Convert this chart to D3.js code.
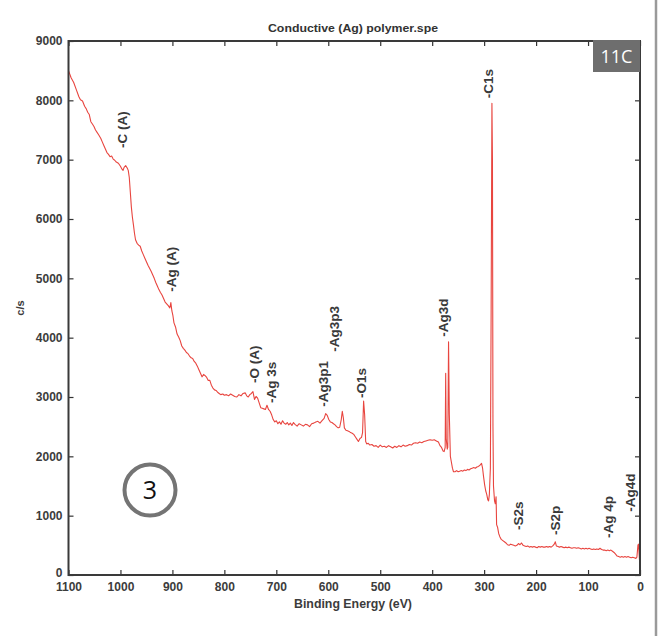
<!DOCTYPE html>
<html>
<head>
<meta charset="utf-8">
<script src="https://cdn.jsdelivr.net/npm/d3@7/dist/d3.min.js"></script>
<style>
  html, body { margin: 0; padding: 0; background: #ffffff; }
  svg { display: block; }
  .tick text { font-family: "Liberation Sans", Arial, sans-serif; font-size: 12px; font-weight: bold; fill: #3c3c3c; }
  .tick line { stroke: #333; stroke-width: 1.2; }
</style>
</head>
<body>
<svg id="chart" width="668" height="636"></svg>
<script>
// Survey spectrum: binding energy (eV) and intensity (counts per second)
const bindingEnergy = [
  1100, 1095, 1090, 1085, 1080, 1077, 1073, 1069, 1066, 1063, 1060, 1057, 1054, 1051, 1048, 1045, 1042, 1038,
  1035, 1032, 1029, 1026, 1023, 1020, 1017, 1014, 1011, 1008, 1004, 1000, 997, 995, 993, 990, 987, 985,
  983, 981, 979, 977, 975, 973, 971, 968, 965, 962, 959, 956, 953, 950, 947, 944, 941, 938,
  935, 932, 929, 926, 923, 920, 917, 914, 911, 908, 905, 903, 901, 899, 897, 894, 891, 888,
  885, 882, 879, 876, 873, 870, 867, 864, 861, 858, 855, 852, 849, 846, 843, 840, 837, 834,
  831, 828, 825, 822, 819, 816, 813, 810, 807, 803, 800, 796, 792, 788, 784, 780, 776, 772,
  768, 764, 760, 757, 754, 751, 748, 745, 742, 739, 736, 733, 730, 727, 724, 721, 718, 715,
  712, 709, 706, 703, 700, 697, 694, 691, 688, 685, 682, 679, 676, 673, 670, 667, 664, 660,
  656, 652, 648, 644, 640, 636, 632, 628, 624, 620, 616, 612, 608, 605, 602, 599, 596, 593,
  590, 587, 584, 581, 578, 575, 573, 571, 569, 566, 563, 560, 557, 554, 551, 548, 545, 542,
  539, 536, 534, 532, 530, 528, 526, 523, 520, 516, 512, 508, 504, 500, 496, 492, 488, 484,
  480, 476, 472, 468, 464, 460, 456, 452, 448, 444, 440, 436, 432, 428, 424, 420, 416, 412,
  408, 404, 400, 396, 392, 388, 385, 382, 379, 377, 375, 374, 373, 371, 370, 368.5, 367, 365,
  363, 361, 359, 356, 353, 350, 347, 344, 341, 338, 335, 332, 329, 326, 323, 320, 317, 314,
  311, 308, 305, 303, 301, 299, 297, 295, 293, 291.5, 290, 288, 286.5, 285, 284, 283, 282, 280,
  278.5, 277, 276, 274, 272, 270, 267, 264, 261, 258, 255, 252, 249, 246, 243, 240, 237, 234,
  231, 228, 225, 222, 219, 216, 213, 210, 207, 204, 201, 198, 195, 192, 189, 186, 183, 180,
  177, 174, 171, 168, 165, 163, 161, 158, 155, 152, 149, 146, 143, 140, 137, 134, 131, 128,
  125, 122, 119, 116, 113, 110, 107, 104, 101, 98, 95, 92, 89, 86, 83, 80, 77, 74,
  71, 68, 65, 62, 59, 56, 53, 50, 47, 44, 41, 38, 35, 32, 29, 26, 23, 20,
  17, 14, 11, 8, 6, 4, 3, 2, 1, 0
];
const countsPerSecond = [
  8500, 8380, 8300, 8180, 8060, 8010, 7990, 7900, 7860, 7800, 7760, 7640, 7600, 7560, 7500, 7460, 7420, 7360,
  7300, 7240, 7180, 7120, 7090, 7050, 7060, 7010, 6990, 6960, 6940, 6890, 6840, 6820, 6870, 6900, 6860, 6820,
  6700, 6450, 6200, 6030, 5900, 5760, 5650, 5590, 5560, 5540, 5460, 5400, 5340, 5280, 5220, 5170, 5120, 5060,
  5000, 4930, 4870, 4810, 4760, 4720, 4660, 4600, 4570, 4540, 4500, 4590, 4450, 4370, 4250, 4180, 4060, 4010,
  3950, 3860, 3820, 3790, 3750, 3730, 3690, 3660, 3650, 3600, 3570, 3520, 3460, 3400, 3340, 3380, 3360, 3330,
  3280, 3280, 3200, 3150, 3120, 3110, 3080, 3060, 3040, 3050, 3030, 3040, 3020, 3050, 3030, 3010, 3000, 3040,
  3020, 3060, 3070, 3020, 3000, 3040, 3060, 3090, 2960, 3010, 2980, 2900, 2820, 2810, 2800, 2790, 2860, 2790,
  2760, 2700, 2620, 2580, 2600, 2550, 2580, 2540, 2600, 2560, 2540, 2570, 2530, 2560, 2520, 2570, 2540, 2510,
  2550, 2530, 2510, 2540, 2530, 2500, 2550, 2560, 2580, 2590, 2560, 2600, 2640, 2720, 2690, 2620, 2580, 2570,
  2550, 2530, 2500, 2480, 2490, 2620, 2760, 2650, 2480, 2440, 2430, 2420, 2400, 2390, 2370, 2330, 2290, 2250,
  2300, 2320, 2400, 2930, 2700, 2250, 2210, 2220, 2190, 2200, 2170, 2180, 2150, 2190, 2160, 2170, 2150, 2180,
  2160, 2140, 2170, 2150, 2180, 2160, 2190, 2170, 2180, 2200, 2190, 2220, 2230, 2220, 2240, 2230, 2250, 2260,
  2270, 2280, 2270, 2280, 2260, 2240, 2180, 2150, 2090, 2080, 2150, 3400, 2300, 2120, 2150, 3930, 2700, 2000,
  1900, 1800, 1740, 1740, 1760, 1740, 1750, 1760, 1750, 1770, 1760, 1780, 1770, 1790, 1800, 1810, 1800, 1820,
  1830, 1850, 1880, 1800, 1650, 1520, 1420, 1360, 1270, 1250, 1350, 1800, 4500, 7950, 7000, 2500, 1500, 1250,
  1200, 1320, 850, 800, 700, 650, 600, 580, 560, 540, 510, 500, 520, 510, 500, 490, 500, 530,
  510, 540, 500, 490, 480, 490, 470, 480, 470, 480, 470, 460, 480, 470, 480, 470, 470, 480,
  470, 480, 470, 490, 520, 560, 490, 480, 470, 480, 470, 460, 470, 460, 470, 460, 450, 460,
  460, 450, 460, 450, 440, 450, 440, 450, 440, 450, 440, 430, 440, 430, 440, 430, 450, 430,
  420, 420, 410, 420, 410, 420, 400, 380, 350, 320, 310, 300, 310, 300, 310, 300, 310, 300,
  290, 300, 290, 280, 300, 500, 520, 400, 250, 200
];

// Peak assignments: label text, energy of the label column, intensity at its lower end
const peakNames  = ["-C (A)", "-Ag (A)", "-O (A)", "-Ag 3s", "-Ag3p1", "-Ag3p3", "-O1s", "-Ag3d", "-C1s", "-S2s", "-S2p", "-Ag 4p", "-Ag4d"];
const peakEnergy = [996, 903, 743, 710, 610, 589, 537, 379, 292, 235, 164, 60.5, 19];
const peakLevel  = [7197, 4775, 3236, 2899, 2837, 3764, 2983, 4016, 8035, 758, 674, 624, 1067];

const xTicks = [1100, 1000, 900, 800, 700, 600, 500, 400, 300, 200, 100, 0];
const yTicks = [0, 1000, 2000, 3000, 4000, 5000, 6000, 7000, 8000, 9000];

const svg = d3.select("#chart");
const plot = { left: 68.5, right: 640, top: 41, bottom: 575 };

const x = d3.scaleLinear().domain([1100, 0]).range([plot.left, plot.right]);
const y = d3.scaleLinear().domain([0, 9000]).range([plot.bottom, plot.top]);

const spectrum = bindingEnergy.map((e, i) => ({ e, c: countsPerSecond[i] }));

// Spectrum trace
svg.append("path")
  .datum(spectrum)
  .attr("fill", "none")
  .attr("stroke", "#e8453f")
  .attr("stroke-width", 1.1)
  .attr("stroke-linejoin", "round")
  .attr("d", d3.line().x(d => x(d.e)).y(d => y(d.c)));

// Axes with inward ticks on all four sides
svg.append("g")
  .attr("transform", `translate(0,${plot.bottom})`)
  .call(d3.axisBottom(x).tickValues(xTicks).tickFormat(d3.format("d")).tickSizeInner(-5).tickSizeOuter(0).tickPadding(7))
  .call(g => g.select(".domain").remove());

svg.append("g")
  .attr("class", "y-axis")
  .attr("transform", `translate(${plot.left},0)`)
  .call(d3.axisLeft(y).tickValues(yTicks).tickFormat(d3.format("d")).tickSizeInner(-5).tickSizeOuter(0).tickPadding(6))
  .call(g => g.select(".domain").remove());

svg.append("g")
  .attr("transform", `translate(0,${plot.top})`)
  .call(d3.axisTop(x).tickValues(xTicks).tickFormat("").tickSizeInner(-5).tickSizeOuter(0))
  .call(g => g.select(".domain").remove());

svg.append("g")
  .attr("transform", `translate(${plot.right},0)`)
  .call(d3.axisRight(y).tickValues(yTicks).tickFormat("").tickSizeInner(-5).tickSizeOuter(0))
  .call(g => g.select(".domain").remove());

// The y "0" label sits slightly above the corner
svg.select(".y-axis").selectAll(".tick text").filter(d => d === 0).attr("dy", "0.1em");

// Plot frame
svg.append("rect")
  .attr("x", plot.left).attr("y", plot.top)
  .attr("width", plot.right - plot.left).attr("height", plot.bottom - plot.top)
  .attr("fill", "none").attr("stroke", "#3a3a3a").attr("stroke-width", 2);

// Peak labels, written vertically
svg.append("g")
  .selectAll("text")
  .data(peakNames)
  .join("text")
  .attr("transform", (d, i) => `translate(${x(peakEnergy[i])},${y(peakLevel[i])}) rotate(-90)`)
  .attr("dy", "0.35em")
  .attr("text-anchor", "start")
  .attr("font-family", "Liberation Sans, Arial, sans-serif")
  .attr("font-size", 13.5)
  .attr("font-weight", "bold")
  .attr("fill", "#3a3a3a")
  .text(d => d);

// Title and axis titles
svg.append("text")
  .attr("x", 353).attr("y", 32)
  .attr("text-anchor", "middle")
  .attr("font-family", "Liberation Sans, Arial, sans-serif")
  .attr("font-size", 11).attr("font-weight", "bold")
  .attr("textLength", 170).attr("lengthAdjust", "spacingAndGlyphs")
  .attr("fill", "#333")
  .text("Conductive (Ag) polymer.spe");

svg.append("text")
  .attr("x", 353).attr("y", 608)
  .attr("text-anchor", "middle")
  .attr("font-family", "Liberation Sans, Arial, sans-serif")
  .attr("font-size", 12).attr("font-weight", "bold")
  .attr("textLength", 118).attr("lengthAdjust", "spacingAndGlyphs")
  .attr("fill", "#3c3c3c")
  .text("Binding Energy (eV)");

svg.append("text")
  .attr("transform", "translate(24,308) rotate(-90)")
  .attr("text-anchor", "middle")
  .attr("font-family", "Liberation Sans, Arial, sans-serif")
  .attr("font-size", 11).attr("font-weight", "bold")
  .attr("fill", "#3c3c3c")
  .text("c/s");

// Corner badge
svg.append("rect")
  .attr("x", 593).attr("y", 40).attr("width", 47).attr("height", 32)
  .attr("fill", "#6e6e6e");
svg.append("text")
  .attr("x", 616.5).attr("y", 62.5)
  .attr("text-anchor", "middle")
  .attr("font-family", "Open Sans, sans-serif")
  .attr("font-size", 18)
  .attr("fill", "#ffffff")
  .text("11C");

// Numbered marker
svg.append("circle")
  .attr("cx", 150).attr("cy", 490).attr("r", 25.5)
  .attr("fill", "#ffffff").attr("stroke", "#747474").attr("stroke-width", 4);
svg.append("text")
  .attr("x", 150).attr("y", 490)
  .attr("dy", "0.36em")
  .attr("text-anchor", "middle")
  .attr("font-family", "Open Sans, sans-serif")
  .attr("font-size", 25)
  .attr("fill", "#111")
  .text("3");

// Page edge rule on the right
svg.append("line")
  .attr("x1", 656).attr("x2", 656).attr("y1", 0).attr("y2", 636)
  .attr("stroke", "#9a9a9a").attr("stroke-width", 2.5);
</script>
</body>
</html>
